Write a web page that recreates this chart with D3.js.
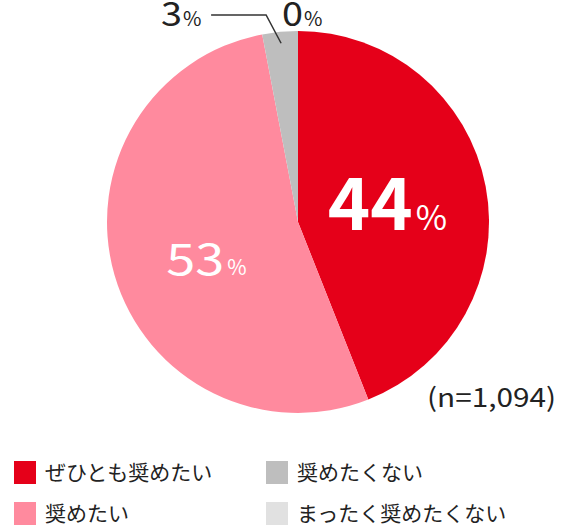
<!DOCTYPE html>
<html><head><meta charset="utf-8">
<script src="https://cdn.jsdelivr.net/npm/d3@7/dist/d3.min.js"></script>
<style>
html,body{margin:0;padding:0;background:#fff;}
svg{display:block;font-family:"Noto Sans CJK JP","Noto Sans",sans-serif;}
</style></head>
<body><svg id="c" width="570" height="526"></svg>
<script>
const categories = ["ぜひとも奨めたい", "奨めたい", "奨めたくない", "まったく奨めたくない"];
const values = [44, 53, 3, 0];
const colors = ["#E50019", "#FF8A9E", "#BEBEBE", "#E1E1E1"];
const sampleLabel = "(n=1,094)";

const svg = d3.select("#c");
const cx = 298, cy = 222, R = 191;
const g = svg.append("g").attr("transform", `translate(${cx},${cy})`);

const pie = d3.pie().sort(null).value(d => d.v);
const data = pie(values.map((v, i) => ({v, i})));
const arc = d3.arc().innerRadius(0).outerRadius(R);

g.selectAll("path").data(data).enter().append("path")
  .attr("d", arc).attr("fill", d => colors[d.data.i]);

function pct(sel, x, y, num, fsNum, fsPct, weight, fill, gap, numLen) {
  const t = sel.append("text").attr("x", x).attr("y", y).attr("fill", fill);
  const n = t.append("tspan").text(num).attr("font-size", fsNum).attr("font-weight", weight);
  if (numLen) n.attr("textLength", numLen).attr("lengthAdjust", "spacingAndGlyphs");
  t.append("tspan").text("%").attr("font-size", fsPct).attr("font-weight", 400).attr("dx", gap);
  return t;
}

// inside labels (anchored near slice centroids)
const c0 = arc.centroid(data[0]);
pct(g, c0[0] - 64, c0[1] + 26, values[0], 72, 34, 700, "#fff", 3, null);
const c1 = arc.centroid(data[1]);
pct(g, c1[0] - 40, c1[1] + 26, values[1], 44, 21, 400, "#fff", 3, 58);

// outside labels
const inner = d3.arc().innerRadius(R * 0.94).outerRadius(R * 0.94);
const p = inner.centroid(data[2]);
const elbow = [p[0] - 15, -R - 16];
g.append("polyline")
  .attr("points", [p, elbow, [elbow[0] - 55, elbow[1]]].map(d => d.join(",")).join(" "))
  .attr("fill", "none").attr("stroke", "#333").attr("stroke-width", 1.5);
pct(svg, 161, 26, values[2], 33, 20, 400, "#222", 1, 21);
pct(svg, 282, 26, values[3], 33, 20, 400, "#222", 1, 21);

svg.append("text").attr("x", 427).attr("y", 407)
  .attr("font-size", 26).attr("fill", "#222")
  .attr("textLength", 129).attr("lengthAdjust", "spacingAndGlyphs")
  .text(sampleLabel);

// legend
const leg = svg.append("g");
categories.forEach((c, i) => {
  const col = Math.floor(i / 2), row = i % 2;
  const x = 14 + col * 252, y = 461 + row * 41;
  leg.append("rect").attr("x", x).attr("y", y).attr("width", 22).attr("height", 23).attr("fill", colors[i]);
  leg.append("text").attr("x", x + 31).attr("y", y + 19).attr("font-size", 21).attr("fill", "#222").text(c);
});
</script></body></html>
